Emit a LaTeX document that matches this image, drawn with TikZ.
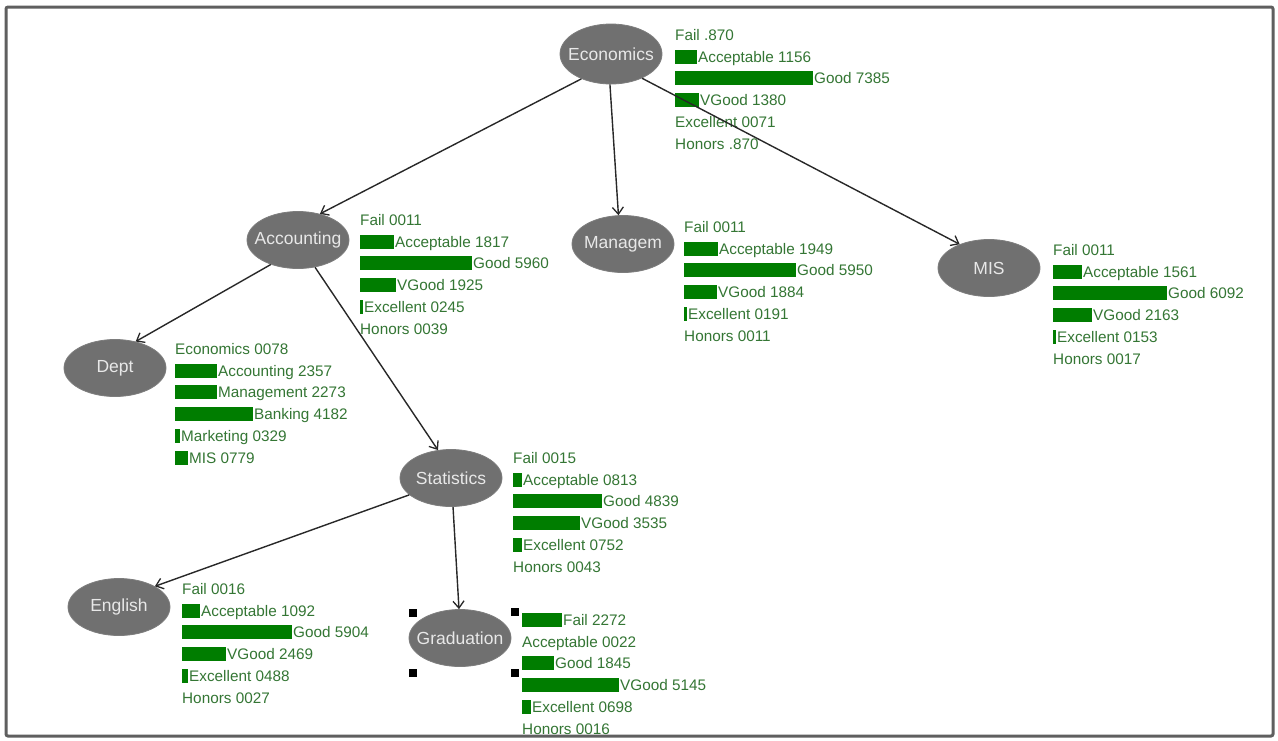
\documentclass[tikz,border=0pt]{standalone}
\usepackage{fontspec}
\setmainfont{Liberation Sans}
\usetikzlibrary{shapes.geometric,arrows.meta}
\definecolor{txtgreen}{RGB}{52,118,52}
\definecolor{bargreen}{RGB}{0,125,0}
\definecolor{ellgray}{RGB}{112,112,112}
\definecolor{ellborder}{RGB}{125,125,125}
\definecolor{framegray}{RGB}{95,95,95}
\definecolor{edgec}{RGB}{40,40,40}
\newcommand{\nolabelwidth}[1]{\makebox[0pt]{#1}}
\tikzset{
 attr/.style={ellipse, fill=ellgray, draw=ellborder, line width=0.8pt, minimum width=102pt, minimum height=57pt, inner sep=0pt, text={rgb,255:red,232;green,232;blue,232}, font=\fontsize{17.5}{20}\selectfont},
 stat/.style={anchor=base west, inner sep=0pt, text=txtgreen, font=\fontsize{15.3}{18}\selectfont},
 edge/.style={draw=edgec, line width=1.4pt, -{Straight Barb[length=7pt,width=11pt,line width=1.3pt]}},
 handle/.style={rectangle, fill=black, minimum size=8pt, inner sep=0pt},
}
\newcommand{\statblock}[4]{%
  \foreach [count=\k] \w/\t in {#4} {
    \pgfmathsetmacro{\yy}{#3+(\k-1)*21.7}
    \pgfmathsetmacro{\xx}{#2+\w+ifthenelse(\w>0,1,0)}
    \ifdim\w pt>0pt \fill[bargreen] (#2,\yy-7) rectangle ++(\w,14);\fi
    \node[stat] (#1\k) at (\xx,\yy+5.5) {\t};
  }}
\begin{document}
\begin{tikzpicture}[x=1pt,y=-1pt]
\useasboundingbox (0,0) rectangle (1278,740);
\fill[white] (0,0) rectangle (1278,740);
% statistic blocks
\statblock{ecoS}{675}{35}{0/Fail .870, 22/Acceptable 1156, 138/Good 7385, 24/VGood 1380, 0/Excellent 0071, 0/Honors .870}
\statblock{accS}{360}{220}{0/Fail 0011, 34/Acceptable 1817, 112/Good 5960, 36/VGood 1925, 3/Excellent 0245, 0/Honors 0039}
\statblock{manS}{684}{227}{0/Fail 0011, 34/Acceptable 1949, 112/Good 5950, 33/VGood 1884, 3/Excellent 0191, 0/Honors 0011}
\statblock{misS}{1053}{250}{0/Fail 0011, 29/Acceptable 1561, 114/Good 6092, 39/VGood 2163, 3/Excellent 0153, 0/Honors 0017}
\statblock{deptS}{175}{349}{0/Economics 0078, 42/Accounting 2357, 42/Management 2273, 78/Banking 4182, 5/Marketing 0329, 13/MIS 0779}
\statblock{statS}{513}{458}{0/Fail 0015, 9/Acceptable 0813, 89/Good 4839, 67/VGood 3535, 9/Excellent 0752, 0/Honors 0043}
\statblock{engS}{182}{589}{0/Fail 0016, 18/Acceptable 1092, 110/Good 5904, 44/VGood 2469, 6/Excellent 0488, 0/Honors 0027}
\statblock{gradS}{522}{620}{40/Fail 2272, 0/Acceptable 0022, 32/Good 1845, 97/VGood 5145, 9/Excellent 0698, 0/Honors 0016}
% attribute nodes
\node[attr, minimum height=60pt] (eco) at (611,54) {\nolabelwidth{Economics}};
\node[attr] (acc) at (298,240) {\nolabelwidth{Accounting}};
\node[attr] (man) at (623,244) {\nolabelwidth{Managem}};
\node[attr] (mis) at (989,268) {\nolabelwidth{MIS}};
\node[attr] (dept) at (115,368) {\nolabelwidth{Dept}};
\node[attr] (stat) at (451,478) {\nolabelwidth{Statistics}};
\node[attr] (eng) at (119,607) {\nolabelwidth{English}};
\node[attr] (grad) at (460,638) {\nolabelwidth{Graduation}};
% connectors
\draw[edge] (eco.220) -- (acc.50);
\draw[edge] (eco.268) -- (man.99);
\draw[edge] (eco.322) -- (mis.141);
\draw[edge] (acc.222) -- (dept.52);
\draw[edge] (acc.302) -- (stat.115);
\draw[edge] (stat.202) -- (eng.30);
\draw[edge] (stat.274) -- (grad.92);
% selection handles
\node[handle] (h1) at (413,613) {};
\node[handle] (h2) at (515,612) {};
\node[handle] (h3) at (413,673) {};
\node[handle] (h4) at (515,673) {};
% frame
\draw[framegray, line width=3pt, rounded corners=2pt] (6,7) rectangle (1273,736);
\end{tikzpicture}
\end{document}
